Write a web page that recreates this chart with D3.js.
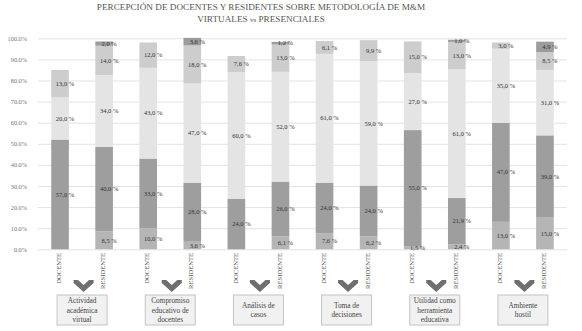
<!DOCTYPE html>
<html><head><meta charset="utf-8">
<script src="https://cdn.jsdelivr.net/npm/d3@7"></script>
<style>body{margin:0;background:#fff}svg{display:block}</style>
</head><body><svg id="c" width="582" height="331"></svg>
<script>
const groups = ["DOCENTE","RESIDENTE","DOCENTE","RESIDENTE","DOCENTE","RESIDENTE","DOCENTE","RESIDENTE","DOCENTE","RESIDENTE","DOCENTE","RESIDENTE"];
const categories = [["Actividad","académica","virtual"],["Compromiso","educativo de","docentes"],["Análisis de","casos"],["Toma de","decisiones"],["Utilidad como","herramienta","educativa"],["Ambiente","hostil"]];
const s1 = [0, 8.5, 10, 3.6, 0, 6.1, 7.6, 6.2, 1.5, 2.4, 13, 15];
const s2 = [52, 40, 33, 28, 24, 26, 24, 24, 55, 21.9, 47, 39];
const s3 = [20, 34, 43, 47, 60, 52, 61, 59, 27, 61, 35, 31];
const s4 = [13, 14, 12, 18, 7.6, 13, 6.1, 9.9, 15, 13, 3, 8.5];
const s5 = [0, 2, 0, 3.6, 0, 1.2, 0, 0, 0, 1.0, 0, 4.9];
const s2Labels = [57, 40, 33, 28, 24, 26, 24, 24, 55, 21.9, 47, 39];
const yTicks = [0,10,20,30,40,50,60,70,80,90,100];

const series = [
  {vals:s1, labs:s1, color:"#b5b5b5"},
  {vals:s2, labs:s2Labels, color:"#9e9e9e"},
  {vals:s3, labs:s3, color:"#e4e4e4"},
  {vals:s4, labs:s4, color:"#cdcdcd"},
  {vals:s5, labs:s5, color:"#9c9c9c"}
];

const svg = d3.select("#c");
const serif = "'Liberation Serif', 'DejaVu Serif', serif";
const x = d3.scaleBand().domain(d3.range(groups.length)).range([38,567]).paddingInner(0.6).paddingOuter(0.3);
const y = d3.scaleLinear().domain([0,100]).range([249.3,38.3]);

// title
const t = svg.append("text").attr("x",261).attr("font-family",serif).attr("fill","#555").attr("text-anchor","middle");
t.append("tspan").attr("x",261).attr("y",10).attr("font-size",9.2).text("PERCEPCIÓN DE DOCENTES Y RESIDENTES SOBRE METODOLOGÍA DE M&M");
const t2 = t.append("tspan").attr("x",261).attr("y",22).attr("font-size",9.2);
t2.append("tspan").text("VIRTUALES ");
t2.append("tspan").attr("font-size",7).text("vs");
t2.append("tspan").text(" PRESENCIALES");

// grid + y axis
const yAxis = d3.axisLeft(y).tickValues(yTicks).tickSize(-(567-38)).tickFormat(d=>d.toFixed(1)+"%");
const ga = svg.append("g").attr("transform","translate(38,0)").call(yAxis);
ga.select(".domain").remove();
ga.selectAll(".tick line").attr("stroke","#e3e3e3").attr("stroke-width",1);
ga.selectAll(".tick text").attr("font-family",serif).attr("font-size",6.3).attr("fill","#777").attr("x",-11);

// bars
const fmt = v => v.toFixed(1).replace(".",",") + " %";
for (let i=0;i<groups.length;i++){
  let base = 0;
  series.forEach(s=>{
    const v = s.vals[i];
    if (v>0){
      svg.append("rect").attr("x",x(i)).attr("width",x.bandwidth())
        .attr("y",y(base+v)).attr("height",y(base)-y(base+v)).attr("fill",s.color);
    }
    base += v;
  });
}
for (let i=0;i<groups.length;i++){
  let base = 0;
  series.forEach(s=>{
    const v = s.vals[i];
    if (v>0){
      svg.append("text").attr("x",x(i)+x.bandwidth()/2+5).attr("y",y(base+v/2)+2.2)
        .attr("text-anchor","middle").attr("font-family",serif).attr("font-size",6.5)
        .attr("fill","#333").text(fmt(s.labs[i]));
    }
    base += v;
  });
}

// x labels
groups.forEach((g,i)=>{
  const cx = x(i)+x.bandwidth()/2 - 1;
  svg.append("text").attr("transform",`translate(${cx+2.2},253) rotate(-90)`)
    .attr("text-anchor","end").attr("font-family",serif).attr("font-size",6.6).attr("fill","#555").text(g);
});

// arrows + boxes
categories.forEach((c,k)=>{
  const cx = (x(2*k)+x(2*k+1)+x.bandwidth())/2;
  const ax = cx+1.5, ay = 280;
  const pts = [[-10,0],[-5.5,0],[0,5],[5.5,0],[10,0],[10,3],[0,12],[-10,3]];
  svg.append("polygon").attr("points",pts.map(p=>[ax+p[0],ay+p[1]].join(",")).join(" ")).attr("fill","#6f6f6f");
  const bw = 50, bh = 30, by = 295;
  svg.append("rect").attr("x",cx-bw/2).attr("y",by).attr("width",bw).attr("height",bh)
    .attr("fill","#f1f1f1").attr("stroke","#c4c4c4").attr("stroke-width",1);
  const n = c.length, lh = 9.3;
  c.forEach((line,j)=>{
    svg.append("text").attr("x",cx).attr("y",by+bh/2+(j-(n-1)/2)*lh+2.6)
      .attr("text-anchor","middle").attr("font-family",serif).attr("font-size",7.3).attr("fill","#444").text(line);
  });
});
</script></body></html>
